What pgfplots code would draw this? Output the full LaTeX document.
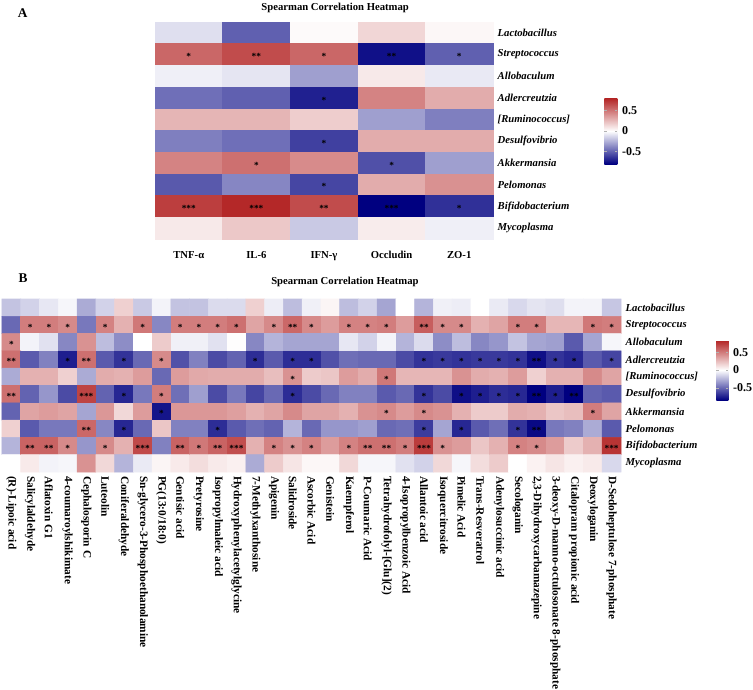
\documentclass[border=0pt]{standalone}
\usepackage{pgfplots}
\pgfplotsset{compat=1.18}
\usepackage{fontspec}
\setmainfont{Liberation Serif}
\newcommand\lab{\fontsize{8}{9.6}\selectfont\bfseries}
\newcommand\labb{\fontsize{8.5}{10}\selectfont\bfseries}
\newcommand\labit{\fontsize{8}{9.6}\selectfont\bfseries\itshape}
\pgfplotsset{
  hm/.style={
    scale only axis, y dir=reverse, enlargelimits=false, clip=false,
    axis line style={draw=none}, major tick length=0pt, tick style={draw=none},
    yticklabel pos=right, ytick={0,...,9},
    yticklabels={Lactobacillus,Streptococcus,Allobaculum,Adlercreutzia,{[Ruminococcus]},Desulfovibrio,Akkermansia,Pelomonas,Bifidobacterium,Mycoplasma},
    yticklabel style={font=\labit},
    colormap={rb}{rgb255=(0,0,128) rgb255=(255,255,255) rgb255=(178,34,34)},
    title style={font=\fontsize{8}{9.6}\selectfont\bfseries, anchor=base},
  },
  cbar/.style={
    scale only axis, ytick={-0.5,0,0.5}, yticklabels={-0.5,0,0.5},
    yticklabel style={font=\fontsize{9}{10}\selectfont\bfseries},
    axis line style={draw=none}, major tick length=2pt, tick style={draw=gray!60},
  },
  stars/.style={draw=none, mark=none, nodes near coords, point meta=explicit symbolic,
    nodes near coords align={center},
    every node near coord/.append style={font=\fontsize{7}{7}\selectfont\bfseries, yshift=-1.6pt, inner sep=0pt, text=black}},
}
\begin{document}
\begin{tikzpicture}
\path[use as bounding box] (0pt,0pt) rectangle (564.75pt,-516.75pt);
% ---------------- Panel A ----------------
\begin{axis}[hm, at={(116.25pt,-16.5pt)}, anchor=north west,
  width=253.5pt, height=162.75pt,
  xmin=-0.5, xmax=4.5, ymin=-0.5, ymax=9.5,
  xtick={0,...,4}, xticklabels={TNF-α,IL-6,IFN-γ,Occludin,ZO-1},
  xticklabel style={font=\lab, yshift=-4pt, text height=1.6ex, text depth=0.3ex},
  point meta min=-0.8, point meta max=0.8,
  colorbar, colorbar style={cbar, at={(parent axis.north east)}, anchor=north west,
    xshift=75pt, yshift=-57pt, width=9.75pt, height=49.5pt},
  title={Spearman Correlation Heatmap}, title style={at={(0.533,1)}, yshift=2.6pt}]
\addplot[matrix plot*, mesh/cols=5, point meta=explicit] coordinates {
(0,0)[-0.1] (1,0)[-0.5] (2,0)[0.02] (3,0)[0.15] (4,0)[0.03]
(0,1)[0.55] (1,1)[0.65] (2,1)[0.55] (3,1)[-0.75] (4,1)[-0.5]
(0,2)[-0.05] (1,2)[-0.08] (2,2)[-0.3] (3,2)[0.08] (4,2)[-0.07]
(0,3)[-0.45] (1,3)[-0.5] (2,3)[-0.7] (3,3)[0.45] (4,3)[0.3]
(0,4)[0.27] (1,4)[0.27] (2,4)[0.18] (3,4)[-0.3] (4,4)[-0.4]
(0,5)[-0.4] (1,5)[-0.45] (2,5)[-0.6] (3,5)[0.3] (4,5)[0.3]
(0,6)[0.45] (1,6)[0.52] (2,6)[0.42] (3,6)[-0.55] (4,6)[-0.3]
(0,7)[-0.52] (1,7)[-0.38] (2,7)[-0.58] (3,7)[0.3] (4,7)[0.4]
(0,8)[0.7] (1,8)[0.78] (2,8)[0.65] (3,8)[-0.85] (4,8)[-0.65]
(0,9)[0.08] (1,9)[0.2] (2,9)[-0.17] (3,9)[0.07] (4,9)[-0.05]
};
\addplot[stars] coordinates {
(0,1)[*] (1,1)[**] (2,1)[*] (3,1)[**] (4,1)[*] (2,3)[*] (2,5)[*] (1,6)[*] (3,6)[*] (2,7)[*]
(0,8)[***] (1,8)[***] (2,8)[**] (3,8)[***] (4,8)[*]
};
\node[font=\fontsize{10}{12}\selectfont\bfseries, anchor=base west] at (axis description cs:-0.42,1.023) {A};
\end{axis}
% ---------------- Panel B ----------------
\begin{axis}[hm, at={(1.5pt,-224.25pt)}, anchor=north west,
  width=464.25pt, height=129.75pt,
  xmin=-0.5, xmax=32.5, ymin=-0.5, ymax=9.5,
  xtick={0,...,32},
  xticklabels={(R)-Lipoic acid,Salicylaldehyde,Aflatoxin G1,4-coumaroylshikimate,Cephalosporin C,Luteolin,Coniferaldehyde,Sn-glycero-3-Phosphoethanolamine,PG(13:0/18:0),Gentisic acid,Pretyrosine,Isopropylmaleic acid,Hydroxyphenylacetylglycine,7-Methylxanthosine,Apigenin,Salidroside,Ascorbic Acid,Genistein,Kaempferol,P-Coumaric Acid,{Tetrahydrofolyl-[Glu](2)},4-Isopropylbenzoic Acid,Allantoic acid,Isoquercitroside,Pimelic Acid,Trans-Resveratrol,Adenylosuccinic acid,Secologanin,{2,3-Dihydroxycarbamazepine},3-deoxy-D-manno-octulosonate 8-phosphate,Citalopram propionic acid,Deoxyloganin,D-Sedoheptulose 7-phosphate},
  xticklabel style={font=\labb, rotate=-90, anchor=west, xshift=-0.5pt},
  point meta min=-0.85, point meta max=0.85,
  colorbar, colorbar style={cbar, at={(parent axis.north east)}, anchor=north west,
    xshift=63pt, yshift=-30.75pt, width=9pt, height=45pt},
  title={Spearman Correlation Heatmap}, title style={at={(0.554,1)}, yshift=5.25pt}]
\addplot[matrix plot*, mesh/cols=33, point meta=explicit] coordinates {
(0,0)[-0.2] (1,0)[-0.15] (2,0)[-0.08] (3,0)[-0.03] (4,0)[-0.28] (5,0)[-0.15] (6,0)[0.18] (7,0)[-0.18] (8,0)[-0.04] (9,0)[-0.2] (10,0)[-0.2] (11,0)[-0.12] (12,0)[-0.12] (13,0)[0.18] (14,0)[-0.06] (15,0)[-0.22] (16,0)[-0.05] (17,0)[0.04] (18,0)[-0.22] (19,0)[-0.15] (20,0)[-0.3] (21,0)[0.0] (22,0)[-0.25] (23,0)[-0.05] (24,0)[-0.06] (25,0)[0.0] (26,0)[-0.07] (27,0)[-0.13] (28,0)[-0.09] (29,0)[-0.11] (30,0)[-0.04] (31,0)[-0.04] (32,0)[-0.19]
(0,1)[-0.5] (1,1)[0.5] (2,1)[0.5] (3,1)[0.45] (4,1)[-0.45] (5,1)[0.48] (6,1)[0.3] (7,1)[0.52] (8,1)[-0.4] (9,1)[0.5] (10,1)[0.5] (11,1)[0.5] (12,1)[0.55] (13,1)[0.35] (14,1)[0.45] (15,1)[0.58] (16,1)[0.45] (17,1)[0.38] (18,1)[0.48] (19,1)[0.48] (20,1)[0.5] (21,1)[0.38] (22,1)[0.62] (23,1)[0.45] (24,1)[0.45] (25,1)[0.3] (26,1)[0.35] (27,1)[0.5] (28,1)[0.5] (29,1)[0.28] (30,1)[0.28] (31,1)[0.52] (32,1)[0.5]
(0,2)[0.45] (1,2)[-0.04] (2,2)[-0.1] (3,2)[-0.4] (4,2)[0.42] (5,2)[-0.22] (6,2)[-0.38] (7,2)[0.0] (8,2)[0.2] (9,2)[-0.05] (10,2)[-0.05] (11,2)[-0.1] (12,2)[0.01] (13,2)[-0.4] (14,2)[-0.25] (15,2)[-0.3] (16,2)[-0.3] (17,2)[-0.3] (18,2)[-0.08] (19,2)[-0.15] (20,2)[-0.04] (21,2)[-0.25] (22,2)[-0.12] (23,2)[-0.38] (24,2)[-0.22] (25,2)[-0.4] (26,2)[-0.35] (27,2)[-0.2] (28,2)[-0.3] (29,2)[-0.32] (30,2)[-0.55] (31,2)[-0.3] (32,2)[-0.03]
(0,3)[0.55] (1,3)[-0.55] (2,3)[-0.42] (3,3)[-0.75] (4,3)[0.55] (5,3)[-0.55] (6,3)[-0.68] (7,3)[-0.5] (8,3)[0.45] (9,3)[-0.58] (10,3)[-0.42] (11,3)[-0.6] (12,3)[-0.52] (13,3)[-0.7] (14,3)[-0.55] (15,3)[-0.7] (16,3)[-0.7] (17,3)[-0.58] (18,3)[-0.48] (19,3)[-0.5] (20,3)[-0.5] (21,3)[-0.6] (22,3)[-0.68] (23,3)[-0.66] (24,3)[-0.68] (25,3)[-0.66] (26,3)[-0.66] (27,3)[-0.68] (28,3)[-0.8] (29,3)[-0.68] (30,3)[-0.72] (31,3)[-0.55] (32,3)[-0.62]
(0,4)[-0.28] (1,4)[0.3] (2,4)[0.3] (3,4)[0.18] (4,4)[-0.28] (5,4)[0.32] (6,4)[0.3] (7,4)[0.38] (8,4)[-0.5] (9,4)[0.38] (10,4)[0.33] (11,4)[0.32] (12,4)[0.32] (13,4)[0.32] (14,4)[0.25] (15,4)[0.42] (16,4)[0.2] (17,4)[0.22] (18,4)[0.38] (19,4)[0.32] (20,4)[0.52] (21,4)[0.28] (22,4)[0.28] (23,4)[0.28] (24,4)[0.42] (25,4)[0.32] (26,4)[0.3] (27,4)[0.38] (28,4)[0.18] (29,4)[0.3] (30,4)[0.3] (31,4)[0.45] (32,4)[0.35]
(0,5)[0.55] (1,5)[-0.52] (2,5)[-0.35] (3,5)[-0.6] (4,5)[0.72] (5,5)[-0.52] (6,5)[-0.72] (7,5)[-0.45] (8,5)[0.5] (9,5)[-0.48] (10,5)[-0.32] (11,5)[-0.6] (12,5)[-0.45] (13,5)[-0.62] (14,5)[-0.5] (15,5)[-0.7] (16,5)[-0.6] (17,5)[-0.5] (18,5)[-0.42] (19,5)[-0.42] (20,5)[-0.55] (21,5)[-0.5] (22,5)[-0.68] (23,5)[-0.6] (24,5)[-0.8] (25,5)[-0.75] (26,5)[-0.7] (27,5)[-0.72] (28,5)[-0.88] (29,5)[-0.75] (30,5)[-0.9] (31,5)[-0.52] (32,5)[-0.55]
(0,6)[-0.52] (1,6)[0.35] (2,6)[0.38] (3,6)[0.35] (4,6)[-0.3] (5,6)[0.4] (6,6)[0.15] (7,6)[0.38] (8,6)[-0.78] (9,6)[0.4] (10,6)[0.4] (11,6)[0.4] (12,6)[0.37] (13,6)[0.3] (14,6)[0.35] (15,6)[0.45] (16,6)[0.35] (17,6)[0.35] (18,6)[0.3] (19,6)[0.42] (20,6)[0.45] (21,6)[0.38] (22,6)[0.45] (23,6)[0.42] (24,6)[0.3] (25,6)[0.2] (26,6)[0.2] (27,6)[0.32] (28,6)[0.3] (29,6)[0.22] (30,6)[0.25] (31,6)[0.5] (32,6)[0.35]
(0,7)[0.18] (1,7)[-0.55] (2,7)[-0.45] (3,7)[-0.45] (4,7)[0.58] (5,7)[-0.4] (6,7)[-0.72] (7,7)[-0.5] (8,7)[0.22] (9,7)[-0.42] (10,7)[-0.42] (11,7)[-0.7] (12,7)[-0.55] (13,7)[-0.48] (14,7)[-0.52] (15,7)[-0.25] (16,7)[-0.5] (17,7)[-0.35] (18,7)[-0.35] (19,7)[-0.32] (20,7)[-0.5] (21,7)[-0.48] (22,7)[-0.65] (23,7)[-0.3] (24,7)[-0.72] (25,7)[-0.55] (26,7)[-0.48] (27,7)[-0.68] (28,7)[-0.82] (29,7)[-0.45] (30,7)[-0.42] (31,7)[-0.28] (32,7)[-0.55]
(0,8)[-0.25] (1,8)[0.6] (2,8)[0.6] (3,8)[0.45] (4,8)[-0.35] (5,8)[0.45] (6,8)[0.3] (7,8)[0.7] (8,8)[-0.42] (9,8)[0.6] (10,8)[0.52] (11,8)[0.6] (12,8)[0.68] (13,8)[0.3] (14,8)[0.48] (15,8)[0.42] (16,8)[0.48] (17,8)[0.38] (18,8)[0.48] (19,8)[0.55] (20,8)[0.55] (21,8)[0.5] (22,8)[0.75] (23,8)[0.42] (24,8)[0.38] (25,8)[0.22] (26,8)[0.3] (27,8)[0.48] (28,8)[0.45] (29,8)[0.38] (30,8)[0.2] (31,8)[0.3] (32,8)[0.78]
(0,9)[0.0] (1,9)[0.08] (2,9)[-0.04] (3,9)[-0.03] (4,9)[0.42] (5,9)[0.15] (6,9)[-0.25] (7,9)[-0.07] (8,9)[0.04] (9,9)[0.08] (10,9)[0.13] (11,9)[0.08] (12,9)[0.06] (13,9)[-0.28] (14,9)[0.2] (15,9)[0.1] (16,9)[0.03] (17,9)[0.03] (18,9)[0.15] (19,9)[-0.03] (20,9)[-0.03] (21,9)[-0.1] (22,9)[-0.15] (23,9)[0.15] (24,9)[-0.03] (25,9)[0.13] (26,9)[0.2] (27,9)[0.0] (28,9)[0.05] (29,9)[0.1] (30,9)[0.06] (31,9)[0.08] (32,9)[-0.13]
};
\addplot[stars] coordinates {
(1,1)[*] (2,1)[*] (3,1)[*] (5,1)[*] (7,1)[*] (9,1)[*] (10,1)[*] (11,1)[*] (12,1)[*] (14,1)[*] (15,1)[**] (16,1)[*] (18,1)[*] (19,1)[*] (20,1)[*] (22,1)[**] (23,1)[*] (24,1)[*] (27,1)[*] (28,1)[*] (31,1)[*] (32,1)[*]
(0,2)[*]
(0,3)[**] (3,3)[*] (4,3)[**] (6,3)[*] (8,3)[*] (13,3)[*] (15,3)[*] (16,3)[*] (22,3)[*] (23,3)[*] (24,3)[*] (25,3)[*] (26,3)[*] (27,3)[*] (28,3)[**] (29,3)[*] (30,3)[*] (32,3)[*]
(15,4)[*] (20,4)[*]
(0,5)[**] (4,5)[***] (6,5)[*] (8,5)[*] (15,5)[*] (22,5)[*] (24,5)[*] (25,5)[*] (26,5)[*] (27,5)[*] (28,5)[**] (29,5)[*] (30,5)[**]
(8,6)[*] (20,6)[*] (22,6)[*] (31,6)[*]
(4,7)[**] (6,7)[*] (11,7)[*] (22,7)[*] (24,7)[*] (27,7)[*] (28,7)[**]
(1,8)[**] (2,8)[**] (3,8)[*] (5,8)[*] (7,8)[***] (9,8)[**] (10,8)[*] (11,8)[**] (12,8)[***] (14,8)[*] (15,8)[*] (16,8)[*] (18,8)[*] (19,8)[**] (20,8)[**] (21,8)[*] (22,8)[***] (23,8)[*] (27,8)[*] (28,8)[*] (32,8)[***]
};
\node[font=\fontsize{10}{12}\selectfont\bfseries, anchor=base west] at (axis description cs:0.0194,1.098) {B};
\end{axis}
\end{tikzpicture}
\end{document}
